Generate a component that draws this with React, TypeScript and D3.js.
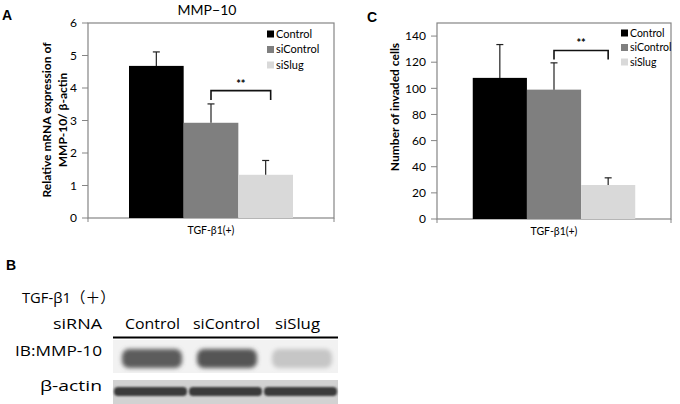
import React, { useRef, useEffect } from "react";
import * as d3 from "d3";

// groups shared by both bar charts and the blot
const groups = ["Control", "siControl", "siSlug"];
const groupColors = ["#000000", "#7f7f7f", "#d9d9d9"];

// panel A: relative MMP-10 mRNA
const mmpMeans = [4.68, 2.93, 1.33];
const mmpErrors = [0.43, 0.58, 0.44];
const mmpTicks = [0, 1, 2, 3, 4, 5, 6];

// panel C: invaded cells
const invMeans = [108, 99, 26];
const invErrors = [25.5, 20.5, 5.5];
const invTicks = [0, 20, 40, 60, 80, 100, 120, 140];

// panel B: band intensities (0..1)
const mmpBand = [0.85, 0.88, 0.25];
const actinBand = [0.9, 0.9, 0.9];

const FONT = "Lato, 'Open Sans', sans-serif";
const BFONT = "'Open Sans', 'Noto Sans CJK JP', sans-serif";

const drawBarPanel = (svg, opts) => {
  const { x0, x1, y0, y1, yMax, means, errs, ticks, pad, sig, legendX, legendY, legendStep, ylabel } = opts;
  const g = svg.append("g");

  const y = d3.scaleLinear().domain([0, yMax]).range([y1, y0]);
  const outer = d3
    .scaleBand()
    .domain(["TGF-β1(+)"])
    .range([x0, x1])
    .paddingInner(0)
    .paddingOuter(pad);
  const x = d3
    .scaleBand()
    .domain(groups)
    .range([outer("TGF-β1(+)"), outer("TGF-β1(+)") + outer.bandwidth()]);

  // frame
  g.append("rect")
    .attr("x", x0)
    .attr("y", y0)
    .attr("width", x1 - x0)
    .attr("height", y1 - y0)
    .attr("fill", "none")
    .attr("stroke", "#858585")
    .attr("stroke-width", 1.2);

  // y ticks
  ticks.forEach((t) => {
    g.append("line")
      .attr("x1", x0 - 6)
      .attr("x2", x0)
      .attr("y1", y(t))
      .attr("y2", y(t))
      .attr("stroke", "#858585");
    g.append("text")
      .attr("x", x0 - 11)
      .attr("y", y(t))
      .attr("dy", "0.35em")
      .attr("text-anchor", "end")
      .attr("font-size", 12)
      .attr("font-family", FONT)
      .text(t);
  });
  // bottom end ticks
  [x0, x1].forEach((xx) => {
    g.append("line")
      .attr("x1", xx)
      .attr("x2", xx)
      .attr("y1", y1)
      .attr("y2", y1 + 4)
      .attr("stroke", "#858585");
  });

  // bars
  g.selectAll(".bar")
    .data(groups)
    .enter()
    .append("rect")
    .attr("x", (d) => x(d))
    .attr("y", (d, i) => y(means[i]))
    .attr("width", x.bandwidth())
    .attr("height", (d, i) => y(0) - y(means[i]))
    .attr("fill", (d, i) => groupColors[i]);

  // error bars (upper only)
  groups.forEach((d, i) => {
    const cx = x(d) + x.bandwidth() / 2;
    g.append("line")
      .attr("x1", cx)
      .attr("x2", cx)
      .attr("y1", y(means[i]))
      .attr("y2", y(means[i] + errs[i]))
      .attr("stroke", "#222")
      .attr("stroke-width", 1.2);
    g.append("line")
      .attr("x1", cx - 3.5)
      .attr("x2", cx + 3.5)
      .attr("y1", y(means[i] + errs[i]))
      .attr("y2", y(means[i] + errs[i]))
      .attr("stroke", "#222")
      .attr("stroke-width", 1.2);
  });

  // significance bracket
  const bx1 = x(groups[sig.from]) + x.bandwidth() / 2;
  const bx2 = x(groups[sig.to]) + x.bandwidth() / 2 + sig.shift;
  g.append("path")
    .attr("d", `M${bx1},${y(sig.low)}V${y(sig.top)}H${bx2}V${y(sig.low)}`)
    .attr("fill", "none")
    .attr("stroke", "#111")
    .attr("stroke-width", 1.6);
  g.append("text")
    .attr("x", (bx1 + bx2) / 2)
    .attr("y", y(sig.top) - 3)
    .attr("text-anchor", "middle")
    .attr("font-size", 11)
    .attr("font-weight", "bold")
    .attr("font-family", FONT)
    .text("**");

  // legend
  groups.forEach((d, i) => {
    g.append("rect")
      .attr("x", legendX)
      .attr("y", legendY + i * legendStep - 3.5)
      .attr("width", 7)
      .attr("height", 7)
      .attr("fill", groupColors[i]);
    g.append("text")
      .attr("x", legendX + 9)
      .attr("y", legendY + i * legendStep)
      .attr("dy", "0.35em")
      .attr("font-size", opts.legendSize)
      .attr("font-family", FONT)
      .text(d);
  });

  // x label
  g.append("text")
    .attr("x", outer("TGF-β1(+)") + outer.bandwidth() / 2)
    .attr("y", y1 + 16)
    .attr("text-anchor", "middle")
    .attr("font-size", 10.5)
    .attr("font-family", FONT)
    .text("TGF-β1(+)");

  // y label
  ylabel.lines.forEach((line, i) => {
    g.append("text")
      .attr("transform", `translate(${ylabel.x + i * 16},${ylabel.y}) rotate(-90)`)
      .attr("text-anchor", "middle")
      .attr("dy", "0.35em")
      .attr("font-size", 12)
      .attr("font-weight", "bold")
      .attr("font-family", FONT)
      .text(line);
  });
};

const drawBlot = (svg) => {
  const g = svg.append("g");
  const lane = d3.scaleBand().domain(groups).range([113, 338]);

  const defs = svg.append("defs");
  defs
    .append("filter")
    .attr("id", "blur")
    .attr("x", "-20%")
    .attr("y", "-60%")
    .attr("width", "140%")
    .attr("height", "220%")
    .append("feGaussianBlur")
    .attr("stdDeviation", 2);
  defs
    .append("filter")
    .attr("id", "blur2")
    .attr("x", "-10%")
    .attr("y", "-60%")
    .attr("width", "120%")
    .attr("height", "220%")
    .append("feGaussianBlur")
    .attr("stdDeviation", 1.2);

  // text squeezed/stretched to the widths seen in the figure
  const txt = (x, y, s, len, anchor = "start") =>
    g.append("text")
      .attr("x", x)
      .attr("y", y)
      .attr("text-anchor", anchor)
      .attr("font-size", 15)
      .attr("font-family", BFONT)
      .attr("textLength", len)
      .attr("lengthAdjust", "spacingAndGlyphs")
      .text(s);

  txt(22, 303, "TGF-β1（＋）", 93);
  txt(102, 329, "siRNA", 49, "end");
  txt(102, 356, "IB:MMP-10", 87, "end");
  txt(102, 391, "β-actin", 62, "end");
  const labLen = [55, 67, 45];
  const labX = [125, 193, 275];
  groups.forEach((d, i) => txt(labX[i], 329, d, labLen[i]));

  g.append("line")
    .attr("x1", 113)
    .attr("x2", 338)
    .attr("y1", 337.5)
    .attr("y2", 337.5)
    .attr("stroke", "#000")
    .attr("stroke-width", 2);

  // MMP-10 strip
  g.append("rect")
    .attr("x", 113)
    .attr("y", 340)
    .attr("width", 225)
    .attr("height", 33)
    .attr("fill", "#f2f2f2");
  const grey = d3.interpolateRgb("#f2f2f2", "#404040");
  groups.forEach((d, i) => {
    g.append("rect")
      .attr("x", lane(d) + 9)
      .attr("y", 349)
      .attr("width", lane.bandwidth() - 15)
      .attr("height", 19)
      .attr("rx", 7)
      .attr("fill", grey(mmpBand[i]))
      .attr("filter", "url(#blur)");
  });

  // beta-actin strip
  g.append("rect")
    .attr("x", 113)
    .attr("y", 380)
    .attr("width", 225)
    .attr("height", 24)
    .attr("fill", "#d2d2d2");
  groups.forEach((d, i) => {
    g.append("rect")
      .attr("x", lane(d) + 1)
      .attr("y", 387)
      .attr("width", lane.bandwidth() - 2)
      .attr("height", 9)
      .attr("rx", 4)
      .attr("fill", d3.interpolateRgb("#d2d2d2", "#2a2a2a")(actinBand[i]))
      .attr("filter", "url(#blur2)");
  });
};

const App = () => {
  const ref = useRef(null);

  useEffect(() => {
    const svg = d3.select(ref.current);
    svg.selectAll("*").remove();

    svg.append("rect").attr("width", 680).attr("height", 404).attr("fill", "#fff");

    // panel letters
    const letter = (x, y, s) =>
      svg
        .append("text")
        .attr("x", x)
        .attr("y", y)
        .attr("font-size", 14)
        .attr("font-weight", "bold")
        .attr("font-family", "'Liberation Sans', Arial, sans-serif")
        .text(s);
    letter(2, 20, "A");
    letter(367, 22, "C");
    letter(6, 270, "B");

    // title
    svg
      .append("text")
      .attr("x", 207)
      .attr("y", 15)
      .attr("text-anchor", "middle")
      .attr("font-size", 14)
      .attr("font-family", FONT)
      .text("MMP−10");

    drawBarPanel(svg, {
      x0: 88,
      x1: 334,
      y0: 23,
      y1: 218,
      yMax: 6,
      means: mmpMeans,
      errs: mmpErrors,
      ticks: mmpTicks,
      pad: 0.25,
      sig: { from: 1, to: 2, top: 3.92, low: 3.63, shift: 5 },
      legendX: 267,
      legendY: 34,
      legendStep: 15.5,
      legendSize: 11,
      ylabel: { x: 47, y: 120, lines: ["Relative mRNA expression of", "MMP-10/ β-actin"] },
    });

    drawBarPanel(svg, {
      x0: 437,
      x1: 671,
      y0: 23,
      y1: 219,
      yMax: 150,
      means: invMeans,
      errs: invErrors,
      ticks: invTicks,
      pad: 0.22,
      sig: { from: 1, to: 2, top: 129, low: 122, shift: 0 },
      legendX: 621,
      legendY: 33,
      legendStep: 14.5,
      legendSize: 10.5,
      ylabel: { x: 395, y: 107, lines: ["Number of invaded cells"] },
    });

    drawBlot(svg);
  }, []);

  return (
    <svg
      ref={ref}
      width={680}
      height={404}
      style={{ position: "absolute", left: 0, top: 0 }}
    />
  );
};

export default App;
